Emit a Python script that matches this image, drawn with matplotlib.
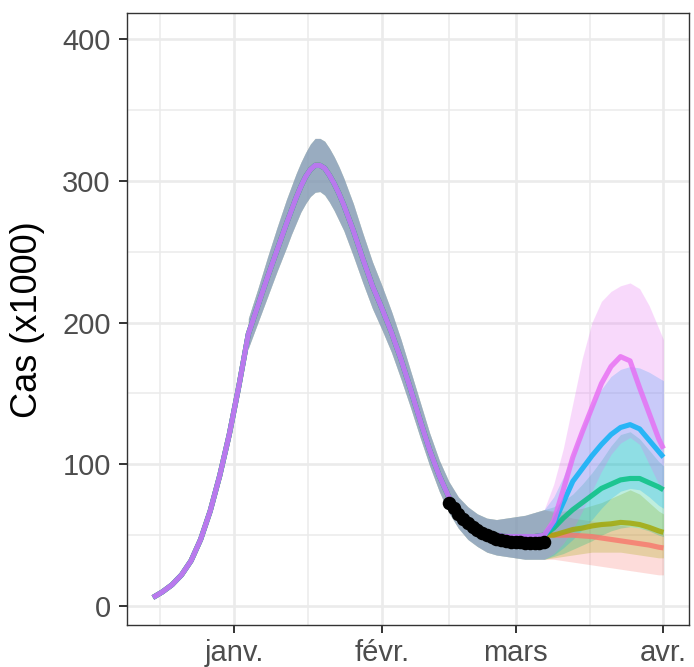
import numpy as np
import pandas as pd
import matplotlib
matplotlib.use("Agg")
import matplotlib.pyplot as plt
import matplotlib.dates as mdates
from matplotlib.ticker import FixedLocator

plt.rcParams["font.family"] = ["Liberation Sans", "DejaVu Sans"]

# ---- common model trajectory (cases x1000) ----
# every 2 days, daily around the January peak
shared_dates = (pd.date_range("2021-12-15", "2022-01-10", freq="2D")
                .append(pd.date_range("2022-01-12", "2022-01-24", freq="D"))
                .append(pd.date_range("2022-01-26", "2022-03-05", freq="2D")))
shared_cases = ([6, 10, 15, 22, 32, 47, 67, 92, 121, 155, 192, 212, 232, 251]
                + [270, 279, 288, 296, 303, 308, 311, 311, 309, 304, 298, 291, 283]
                + [265, 245, 226, 210, 193, 174, 153, 131, 110, 92, 77, 66, 59,
                   54, 51, 50, 49, 49, 49, 49])

# uncertainty band of the common trajectory
band_dates = (pd.date_range("2022-01-04", "2022-01-10", freq="2D")
              .append(pd.date_range("2022-01-12", "2022-01-24", freq="D"))
              .append(pd.date_range("2022-01-26", "2022-03-05", freq="2D")))
band_low = ([182, 200, 218, 236]
            + [253, 262, 270, 278, 284, 289, 292, 292.5, 290, 285, 279, 272, 265]
            + [247, 228, 210, 195, 179, 160, 140, 119, 99, 81, 66, 55, 47, 42,
               38, 36, 35, 34, 33, 33])
band_high = ([203, 224, 246, 267]
             + [287, 296, 305, 313, 320, 326, 330, 330, 328, 323, 317, 310, 302]
             + [284, 263, 243, 226, 208, 188, 166, 144, 122, 103, 88, 77, 70, 65,
                62, 61, 62, 63, 64, 66])

# observed daily cases
obs_dates = pd.date_range("2022-02-15", "2022-03-07", freq="D")
obs_cases = [73, 69, 65, 61.5, 58.5, 56, 53.5, 51.5, 50, 48.5, 47.5, 46.5, 46,
             45.5, 45, 45, 44.5, 44.5, 44.5, 44.5, 45]

# ---- scenario projections from March 7 ----
scen_dates = pd.to_datetime(["2022-03-07", "2022-03-09", "2022-03-11",
                             "2022-03-13", "2022-03-15", "2022-03-17",
                             "2022-03-19", "2022-03-21", "2022-03-23",
                             "2022-03-25", "2022-03-27", "2022-03-29",
                             "2022-03-31", "2022-04-01"])

scen1_cases = [50, 50, 50, 50, 49.5, 49, 48, 47, 46, 45, 44, 43, 41.5, 41]
scen1_low = [33, 33, 32, 31, 30, 29, 28, 27, 26, 25, 24, 23, 22, 22]
scen1_high = [68, 66, 64, 62, 61, 60, 59, 58, 57, 56, 55, 54, 52, 51]

scen2_cases = [50, 50, 52, 54, 55, 56.5, 57.5, 58, 59, 58.5, 57.5, 55.5, 53, 52]
scen2_low = [33, 34, 35, 36, 37, 38, 38, 38, 38, 37, 36, 35, 34, 34]
scen2_high = [68, 67, 67, 68, 69, 71, 73, 76, 79, 82, 79, 73, 67, 65]

scen3_cases = [50, 55, 62, 68, 73, 78, 83, 86, 89, 90, 90, 87, 84, 82]
scen3_low = [33, 35, 37, 40, 43, 46, 50, 53, 55, 56, 55, 53, 50, 49]
scen3_high = [68, 70, 74, 79, 86, 94, 103, 113, 121, 123, 118, 110, 102, 99]

scen4_cases = [50, 58, 73, 88, 97, 106, 114, 121, 126, 128, 125, 117, 109, 105]
scen4_low = [33, 36, 41, 47, 54, 61, 69, 76, 81, 83, 82, 77, 71, 69]
scen4_high = [68, 77, 91, 108, 126, 142, 153, 162, 167, 169, 168, 165, 161, 159]

scen5_cases = [50, 60, 82, 105, 123, 140, 157, 169, 176, 173, 154, 136, 118, 111]
scen5_low = [33, 37, 44, 54, 67, 81, 95, 107, 115, 119, 114, 100, 86, 80]
scen5_high = [68, 86, 111, 143, 175, 200, 215, 222, 226, 228, 224, 212, 196, 188]

scen_colors = ["#F8766D", "#A3A500", "#00BF7D", "#00B0F6", "#E76BF3"]

month_ticks = pd.to_datetime(["2022-01-01", "2022-02-01", "2022-03-01", "2022-04-01"])
month_labels = ["janv.", "févr.", "mars", "avr."]
y_ticks = [0, 100, 200, 300, 400]

scenarios = [
    (scen1_cases, scen1_low, scen1_high),
    (scen2_cases, scen2_low, scen2_high),
    (scen3_cases, scen3_low, scen3_high),
    (scen4_cases, scen4_low, scen4_high),
    (scen5_cases, scen5_low, scen5_high),
]

W, H = 694, 667
fig = plt.figure(figsize=(W / 100, H / 100), dpi=100)
ax = fig.add_axes([127.4 / W, 1 - 625 / H, (689 - 127.4) / W, (625 - 13.3) / H])
ax.set_facecolor("white")

# ribbons first, then lines, then the observations
line_dates = shared_dates.append(scen_dates)
ribbon_dates = band_dates.append(scen_dates)
for (cases, low, high), col in zip(scenarios, scen_colors):
    ax.fill_between(ribbon_dates, band_low + low, band_high + high,
                    color=col, alpha=0.25, lw=0, zorder=2)
for (cases, low, high), col in zip(scenarios, scen_colors):
    ax.plot(line_dates, shared_cases + cases, color=col, alpha=0.8, lw=3.7,
            solid_capstyle="butt", solid_joinstyle="round", zorder=3)
ax.scatter(obs_dates, obs_cases, s=95, color="black", lw=0, zorder=4)

# x scale with 5% expansion around the data
x0 = mdates.date2num(line_dates.min())
x1 = mdates.date2num(line_dates.max())
pad = 0.05 * (x1 - x0)
ax.set_xlim(x0 - pad, x1 + pad)
ax.set_ylim(-13.4, 418.3)

major_x = mdates.date2num(month_ticks)
month_starts = mdates.date2num(pd.to_datetime(["2021-12-01"]).append(month_ticks))
minor_x = (month_starts[:-1] + month_starts[1:]) / 2
ax.xaxis.set_major_locator(FixedLocator(major_x))
ax.xaxis.set_minor_locator(FixedLocator(minor_x))
ax.set_xticklabels(month_labels)
ax.yaxis.set_major_locator(FixedLocator(y_ticks))
ax.yaxis.set_minor_locator(FixedLocator([50, 150, 250, 350]))

ax.set_axisbelow(True)
ax.grid(which="major", color="#EBEBEB", lw=1.9, zorder=0)
ax.grid(which="minor", color="#EBEBEB", lw=1.1, zorder=0)

for s in ax.spines.values():
    s.set_color("#333333")
    s.set_linewidth(1.0)

ax.tick_params(which="major", length=6, width=1.4, color="#333333",
               labelsize=21, labelcolor="#4D4D4D")
ax.tick_params(axis="y", which="major", pad=6)
ax.tick_params(axis="x", which="major", pad=4)
ax.tick_params(which="minor", length=0)

ax.set_ylabel("Cas (x1000)", fontsize=26, color="black")
ax.yaxis.set_label_coords(-0.146, 0.5)

fig.savefig("out.png", dpi=100, facecolor="white")
